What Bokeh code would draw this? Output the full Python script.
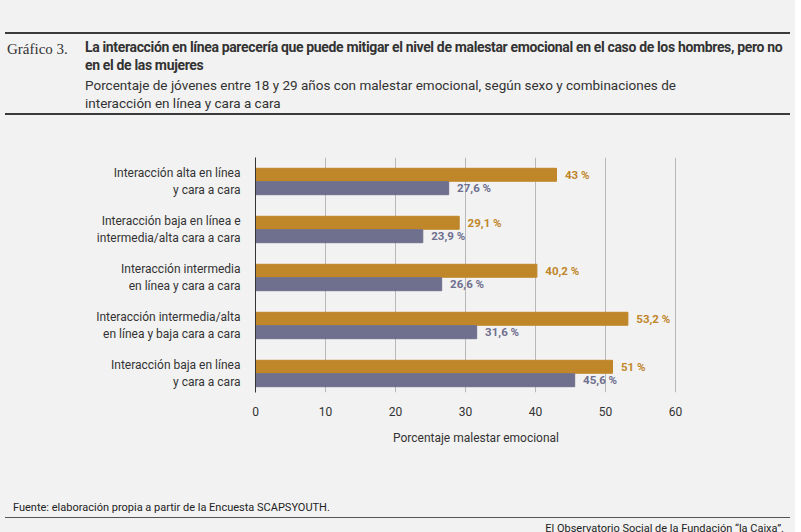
from bokeh.plotting import figure
from bokeh.models import Range1d, Div, Legend, LegendItem, FixedTicker, ColumnDataSource
from bokeh.layouts import column
from bokeh.core.properties import value
from bokeh.embed import file_html
from bokeh.resources import INLINE

categories = ["Interacción alta en línea\ny cara a cara",
              "Interacción baja en línea e\nintermedia/alta cara a cara",
              "Interacción intermedia\nen línea y cara a cara",
              "Interacción intermedia/alta\nen línea y baja cara a cara",
              "Interacción baja en línea\ny cara a cara"]
mujeres = [43, 29.1, 40.2, 53.2, 51]
hombres = [27.6, 23.9, 26.6, 31.6, 45.6]
x_ticks = [0, 10, 20, 30, 40, 50, 60]

BG = "#f2f2f2"
GOLD = "#c0862a"
PURP = "#6f6f8e"
TXT = "#333333"

def fmt(v):
    s = ("%g" % v).replace(".", ",")
    return s + " %"

idx = list(range(len(categories)))
src_m = ColumnDataSource(dict(y=[i - 0.14 for i in idx], v=mujeres, lab=[fmt(v) for v in mujeres],
                              lx=[v + 1.2 for v in mujeres]))
src_h = ColumnDataSource(dict(y=[i + 0.14 for i in idx], v=hombres, lab=[fmt(v) for v in hombres],
                              lx=[v + 1.2 for v in hombres]))

p = figure(width=785, height=350, output_backend="svg", toolbar_location=None,
           x_range=Range1d(0, 63), y_range=Range1d(4.396, -0.5),
           min_border_left=255, min_border_right=89, min_border_top=27, min_border_bottom=88,
           background_fill_color=BG, border_fill_color=BG, outline_line_color=None)

rm = p.hbar(y="y", right="v", left=0, height=0.27, source=src_m, color=GOLD)
rh = p.hbar(y="y", right="v", left=0, height=0.27, source=src_h, color=PURP)
p.text(x="lx", y="y", text="lab", source=src_m, text_color=GOLD, text_font=value("Roboto"),
       text_font_size="11.5px", text_font_style="bold", text_baseline="middle")
p.text(x="lx", y="y", text="lab", source=src_h, text_color=PURP, text_font=value("Roboto"),
       text_font_size="11.5px", text_font_style="bold", text_baseline="middle")

p.ygrid.grid_line_color = None
p.xgrid.ticker = FixedTicker(ticks=x_ticks)
p.xgrid.grid_line_color = "#b8b8b8"

p.xaxis.ticker = FixedTicker(ticks=x_ticks)
p.xaxis.axis_line_color = None
p.xaxis.major_tick_line_color = None
p.xaxis.minor_tick_line_color = None
p.xaxis.major_label_text_font = "Roboto"
p.xaxis.major_label_text_font_size = "12px"
p.xaxis.major_label_text_color = TXT
p.xaxis.major_label_standoff = 8
p.xaxis.axis_label = "Porcentaje malestar emocional"
p.xaxis.axis_label_text_font = "Roboto"
p.xaxis.axis_label_text_font_style = "normal"
p.xaxis.axis_label_text_font_size = "12px"
p.xaxis.axis_label_text_color = TXT
p.xaxis.axis_label_standoff = 12

p.yaxis.ticker = FixedTicker(ticks=idx)
p.yaxis.major_label_overrides = {i: c for i, c in zip(idx, categories)}
p.yaxis.axis_line_color = "#333333"
p.yaxis.major_tick_line_color = None
p.yaxis.minor_tick_line_color = None
p.yaxis.major_label_text_font = "Roboto"
p.yaxis.major_label_text_font_size = "12px"
p.yaxis.major_label_text_color = TXT
p.yaxis.major_label_standoff = 9

legend = Legend(items=[LegendItem(label="Mujeres", renderers=[rm]),
                       LegendItem(label="Hombres", renderers=[rh])],
                orientation="horizontal", location=(58, -84),
                background_fill_alpha=0, border_line_color=None,
                label_text_font="Roboto", label_text_font_size="12px", label_text_color=TXT,
                glyph_width=11, glyph_height=11, spacing=28, padding=2, margin=0)
p.add_layout(legend, "center")

header = Div(width=785, height=120, styles={"background": BG}, text=f"""
<div style="position:relative;width:785px;height:120px;background:{BG};color:{TXT};">
 <div style="position:absolute;left:0;top:27px;width:785px;border-top:2px solid #3a3a3a;"></div>
 <div style="position:absolute;left:2px;top:34px;font-family:'Liberation Serif';font-size:15px;color:#333;">Gráfico 3.</div>
 <div style="position:absolute;left:80px;top:33px;width:700px;font-family:'Roboto';font-weight:bold;font-size:14px;letter-spacing:-0.35px;line-height:18px;color:#333;">La interacción en línea parecería que puede mitigar el nivel de malestar emocional en el caso de los hombres, pero no en el de las mujeres</div>
 <div style="position:absolute;left:80px;top:71px;width:630px;font-family:'Roboto';font-size:13.5px;line-height:18px;color:#333;">Porcentaje de jóvenes entre 18 y 29 años con malestar emocional, según sexo y combinaciones de interacción en línea y cara a cara</div>
 <div style="position:absolute;left:0;top:108px;width:785px;border-top:2px solid #3a3a3a;"></div>
</div>""")

footer = Div(width=785, height=50, styles={"background": BG}, text=f"""
<div style="position:relative;width:785px;height:50px;background:{BG};color:{TXT};">
 <div style="position:absolute;left:8px;top:15px;font-family:'Roboto';font-size:11px;color:#222;">Fuente: elaboración propia a partir de la Encuesta SCAPSYOUTH.</div>
 <div style="position:absolute;left:0;top:32px;width:785px;border-top:1px solid #555;"></div>
 <div style="position:absolute;right:6px;top:36px;font-family:'Roboto';font-size:11px;color:#222;">El Observatorio Social de la Fundación “la Caixa”.</div>
</div>""")

layout = column(header, p, footer, spacing=0, styles={"background": BG})
open("out.html", "w").write(file_html(layout, INLINE))
